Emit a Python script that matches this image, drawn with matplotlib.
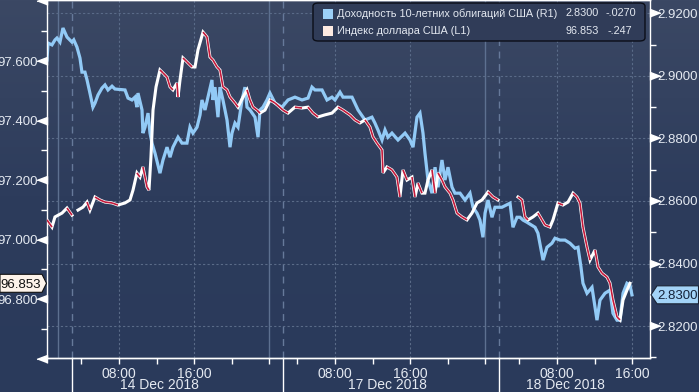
import numpy as np
import matplotlib
matplotlib.use("Agg")
import matplotlib.pyplot as plt
from matplotlib.patches import Polygon, FancyBboxPatch, Rectangle
from matplotlib.collections import LineCollection
from matplotlib.colors import LinearSegmentedColormap

# ---------------- data ----------------
# x positions: hours on the compressed (gap-removed) session axis, 14 Dec 00:00 = 0
yield_t = [0.34, 0.45, 0.87, 1.19, 1.40, 1.72, 2.04, 2.47, 3.00, 3.19, 3.53, 3.85, 4.06, 4.38, 4.60,
           4.91, 5.23, 5.45, 5.77, 6.19, 6.51, 6.83, 7.26, 7.57, 8.64, 8.96, 9.38, 9.70, 9.91, 10.02,
           10.45, 10.55, 10.77, 11.09, 11.30, 11.51, 11.83, 12.36, 12.68, 13.11, 13.43, 13.74, 14.28,
           14.70, 15.23, 15.55, 15.87, 16.30, 16.62, 16.83, 17.15, 17.47, 17.89, 18.00, 18.21, 18.53,
           18.74, 19.06, 19.49, 19.81, 20.02, 20.34, 20.66, 21.09, 21.40, 21.62, 21.94, 22.47, 22.79,
           23.00, 23.32, 23.74, 24.06, 24.60, 25.34, 25.98, 26.72, 27.47, 28.11, 28.53, 28.85, 29.60,
           30.13, 30.66, 30.98, 31.51, 31.83, 32.79, 33.43, 34.17, 34.91, 35.23, 35.55, 35.98, 36.30,
           36.62, 37.04, 37.68, 38.43, 38.96, 39.28, 39.70, 40.02, 40.34, 40.55, 40.87, 41.30, 41.62,
           41.94, 42.36, 42.68, 43.00, 43.43, 43.74, 44.28, 44.81, 45.34, 45.66, 46.09, 46.40, 46.72,
           46.94, 47.26, 47.68, 48.00, 48.74, 49.60, 49.91, 50.34, 50.66, 50.98, 51.40, 52.26, 52.57,
           53.11, 53.53, 54.06, 54.38, 54.91, 55.45, 55.98, 56.51, 56.83, 57.15, 57.36, 57.79, 58.32,
           58.85, 59.17, 59.70, 60.23, 60.55, 60.98, 61.30, 61.62, 62.04, 62.36, 62.57]
yield_v = [2.9051, 2.9105, 2.9099, 2.9115, 2.9121, 2.9108, 2.9153, 2.9124, 2.9108, 2.9115, 2.9092,
           2.9057, 2.9012, 2.9012, 2.8987, 2.8945, 2.8900, 2.8913, 2.8939, 2.8961, 2.8971, 2.8955,
           2.8967, 2.8958, 2.8955, 2.8929, 2.8923, 2.8932, 2.8900, 2.8945, 2.8891, 2.8817, 2.8836,
           2.8881, 2.8817, 2.8785, 2.8753, 2.8689, 2.8731, 2.8772, 2.8740, 2.8772, 2.8804, 2.8785,
           2.8785, 2.8836, 2.8817, 2.8836, 2.8875, 2.8923, 2.8891, 2.8932, 2.8987, 2.8923, 2.8964,
           2.8868, 2.8964, 2.8923, 2.8859, 2.8772, 2.8817, 2.8849, 2.8836, 2.8923, 2.8964, 2.8900,
           2.8891, 2.8868, 2.8804, 2.8891, 2.8900, 2.8923, 2.8945, 2.8913, 2.8900, 2.8923, 2.8932,
           2.8923, 2.8929, 2.8964, 2.8955, 2.8955, 2.8923, 2.8932, 2.8923, 2.8948, 2.8932, 2.8932,
           2.8891, 2.8859, 2.8868, 2.8849, 2.8827, 2.8795, 2.8827, 2.8804, 2.8817, 2.8795, 2.8817,
           2.8795, 2.8772, 2.8868, 2.8881, 2.8817, 2.8753, 2.8667, 2.8625, 2.8708, 2.8644, 2.8731,
           2.8667, 2.8708, 2.8644, 2.8625, 2.8625, 2.8603, 2.8625, 2.8580, 2.8561, 2.8539, 2.8484,
           2.8561, 2.8603, 2.8548, 2.8580, 2.8580, 2.8593, 2.8516, 2.8548, 2.8548, 2.8539, 2.8532,
           2.8516, 2.8497, 2.8411, 2.8452, 2.8465, 2.8481, 2.8475, 2.8475, 2.8465, 2.8449, 2.8452,
           2.8388, 2.8337, 2.8305, 2.8324, 2.8219, 2.8283, 2.8305, 2.8315, 2.8241, 2.8219, 2.8219,
           2.8305, 2.8337, 2.8331, 2.8300]

# NaN marks a gap in the dollar index quotes
dxy_t = [0.34, 0.87, 1.19, 1.94, 2.47, 3.00, 3.30, 3.64, 4.17, 4.60, 4.91, 5.45, 5.98, 6.51, 7.26,
         7.89, 8.64, 9.17, 9.49, 9.91, 10.23, 10.55, 10.98, 11.19, 11.40, 11.62, 11.94, 12.36, 12.68,
         13.11, 13.43, 13.74, 14.17, 14.28, 14.49, 14.81, 15.23, 15.77, 16.09, 16.40, 16.94, 17.36,
         17.68, 18.00, 18.43, 18.74, 19.06, 19.49, 19.81, 20.34, 20.66, 21.19, 21.62, 21.94, 22.26,
         22.68, 23.00, 23.53, 24.06, 24.60, 25.45, 25.98, 26.72, 27.47, 28.11, 28.64, 29.17, 29.91,
         30.66, 31.30, 31.83, 32.57, 33.11, 33.64, 34.17, 34.70, 35.02, 35.45, 35.98, 36.09, 36.51,
         37.04, 37.57, 37.89, 38.21, 38.64, 39.17, 39.49, 39.81, 40.23, 40.55, 40.87, 41.30, 41.62,
         41.94, 42.36, 42.68, 43.21, 43.53, 43.96, 44.49, 45.02, 45.55, 46.09, 46.62, 47.26, 47.79,
         48.32, 49.40, 50.45, 50.87, 51.19, 51.51, 52.04, 52.57, 53.00, 53.32, 53.85, 54.17, 54.70,
         55.23, 55.77, 56.30, 56.72, 57.04, 57.36, 57.79, 58.11, 58.64, 58.96, 59.38, 59.91, 60.23,
         60.55, 60.98, 61.30, 61.62, 62.04, 62.36]
dxy_v = [97.066, 97.042, 97.076, 97.089, 97.106, 97.082, np.nan, 97.099, 97.109, 97.126, 97.099,
         97.143, 97.133, 97.126, 97.123, 97.116, 97.123, 97.133, 97.166, 97.224, 97.210, 97.244,
         97.177, 97.166, 97.277, 97.435, 97.513, 97.570, 97.560, 97.546, 97.513, 97.503, 97.526,
         97.479, 97.536, 97.610, 97.597, 97.580, 97.580, 97.637, 97.697, 97.681, 97.613, 97.603,
         97.580, 97.570, 97.513, 97.503, 97.479, 97.459, 97.445, 97.479, 97.503, 97.469, 97.445,
         97.435, 97.425, 97.435, 97.469, 97.459, 97.435, 97.425, 97.445, 97.442, 97.445, 97.425,
         97.412, 97.419, 97.425, 97.445, 97.435, 97.419, 97.402, 97.392, 97.402, 97.378, 97.345,
         97.324, 97.301, 97.224, 97.244, 97.234, 97.210, 97.143, 97.234, 97.200, 97.210, 97.143,
         97.190, 97.156, 97.156, 97.200, 97.234, 97.156, 97.224, 97.200, 97.177, 97.156, 97.133,
         97.089, 97.076, 97.066, 97.089, 97.123, 97.133, 97.160, 97.143, 97.133, np.nan, 97.143,
         97.133, 97.076, 97.066, 97.076, 97.089, 97.066, 97.049, 97.042, 97.066, 97.123, 97.116,
         97.126, 97.156, 97.143, 97.123, 97.042, 96.975, 96.931, 96.965, 96.908, 96.887, 96.874,
         96.854, 96.797, 96.740, 96.730, 96.797, 96.830, 96.853]

day_starts = [0.0, 22.98, 46.6]                 # compressed-axis hour of each day's 00:00
day_labels = ["14 Dec 2018", "17 Dec 2018", "18 Dec 2018"]
day_label_pos = [12.3, 36.6, 55.5]
major_hours = [8, 16]
minor_hours = [4, 12, 20, 24]
session_lines = [1.51, 23.96, 46.94]
separators = [3.0, 25.45, 48.43]

left_ticks = [97.6, 97.4, 97.2, 97.0, 96.8]
right_ticks = [2.92, 2.90, 2.88, 2.86, 2.84, 2.82]

legend_labels = ["Доходность 10-летних облигаций США (R1)", "Индекс доллара США (L1)"]
legend_last = ["2.8300", "96.853"]
legend_change = ["-.0270", "-.247"]
last_yield = 2.8300
last_dxy = 96.853

# ---------------- style ----------------
W, H = 699, 392
FONT = ["Liberation Sans", "DejaVu Sans"]
plt.rcParams["font.family"] = FONT
TXT = "#e4e9f1"
BLUE = "#92caf6"
RED = "#c41a3b"
GRID = "#5a6b88"

fig = plt.figure(figsize=(W / 100, H / 100), dpi=100)

# background gradient
bg = fig.add_axes([0, 0, 1, 1], zorder=-10)
cmap = LinearSegmentedColormap.from_list("bg", ["#3b4864", "#2d3c5c", "#2a3a5b"])
bg.imshow(np.linspace(0, 1, 256).reshape(-1, 1), aspect="auto", cmap=cmap,
          extent=[0, 1, 0, 1])
bg.set_axis_off()

ax_l, ax_r = 46.7 / W, 650 / W
ax_b, ax_t = (H - 357.7) / H, 1.0
ax2 = fig.add_axes([ax_l, ax_b, ax_r - ax_l, ax_t - ax_b])   # yield (right axis), lower
ax = fig.add_axes([ax_l, ax_b, ax_r - ax_l, ax_t - ax_b], sharex=ax2)  # dollar (left axis), top
for a in (ax, ax2):
    a.patch.set_visible(False)

ax.set_xlim(0.31, 64.49)
ax2.set_ylim(2.8099, 2.92426)
ax.set_ylim(96.603, 97.805)

# yield on right axis
ax2.yaxis.tick_right()
ax2.plot(yield_t, yield_v, color=BLUE, lw=2.3, solid_joinstyle="miter", zorder=3)

# grid (on lower axes)
ax2.set_yticks(right_ticks)
ax2.set_yticks(np.arange(2.81, 2.925, 0.02), minor=True)
ax2.grid(axis="y", which="major", color=GRID, lw=0.8, ls=(0, (2, 2)), zorder=0)
for d in day_starts:
    for h in major_hours:
        ax2.axvline(d + h, color=GRID, lw=0.8, ls=(0, (2, 2)), zorder=0)
for s in session_lines:
    ax2.axvline(s, color="#5d7090", lw=1.0, zorder=0)
for s in separators:
    ax2.axvline(s, color="#66799a", lw=1.0, ls=(0, (5, 4)), zorder=0)

# dollar index: white line with red on declining steps
dt = np.array(dxy_t)
dv = np.array(dxy_v, dtype=float)
ax.plot(dt, dv, color="white", lw=2.2, zorder=3, solid_joinstyle="miter")
segs = []
for i in range(len(dt) - 1):
    if np.isfinite(dv[i]) and np.isfinite(dv[i + 1]) and dv[i + 1] < dv[i]:
        segs.append([(dt[i], dv[i]), (dt[i + 1], dv[i + 1])])
ax.add_collection(LineCollection(segs, colors=RED, linewidths=1.2, zorder=4))

# spines
for a in (ax, ax2):
    for sp in a.spines.values():
        sp.set_color("white")
        sp.set_linewidth(1.0)
ax2.spines["left"].set_visible(False)
ax.spines["right"].set_visible(False)

# left axis ticks
ax.set_yticks(left_ticks)
ax.set_yticklabels([f"{v:.3f}" for v in left_ticks])
ax.set_yticks(np.arange(96.7, 97.8, 0.2), minor=True)
ax.tick_params(axis="y", which="major", length=0, pad=6.0, labelsize=9.5, labelcolor=TXT)
ax.tick_params(axis="y", which="minor", length=4, width=1, color="white", direction="out")
tri_l = [(0, -0.38), (0, 0.38), (-1, 0)]
ax.plot(np.zeros(7), [97.8, 97.6, 97.4, 97.2, 97.0, 96.8, 96.6], ls="none",
        marker=tri_l, ms=15, color="white", transform=ax.get_yaxis_transform(), clip_on=False)

# right axis ticks
ax2.set_yticklabels([f"{v:.4f}" for v in right_ticks])
ax2.tick_params(axis="y", which="major", length=0, pad=5.0, labelsize=9.5, labelcolor=TXT)
ax2.tick_params(axis="y", which="minor", length=4, width=1, color="white", direction="out")
tri_r = [(0, -0.38), (0, 0.38), (1, 0)]
ax2.plot(np.ones(len(right_ticks)), right_ticks, ls="none", marker=tri_r, ms=15,
         color="white", transform=ax2.get_yaxis_transform(), clip_on=False)

# x axis
ax2.tick_params(axis="x", which="both", bottom=False, labelbottom=False)
maj = [d + h for d in day_starts for h in major_hours]
mino = [d + h for d in day_starts for h in minor_hours if d + h < 64.4]
ax.set_xticks(maj)
ax.set_xticklabels([f"{h:02d}:00" for d in day_starts for h in major_hours])
ax.set_xticks(mino, minor=True)
ax.tick_params(axis="x", which="major", length=4, width=1, color="white", pad=3,
               labelsize=10, labelcolor=TXT)
ax.tick_params(axis="x", which="minor", length=4, width=1, color="white")
xt = ax.get_xaxis_transform()
for p, lab in zip(day_label_pos, day_labels):
    ax.text(p, -0.058, lab, transform=xt, ha="center", va="top", fontsize=10, color=TXT)
for s in separators:
    ax.plot([s, s], [0, -0.1], transform=xt, color="white", lw=1.0, clip_on=False)

# legend box
lx0, lx1, ly0, ly1 = 313 / W, 645 / W, 1 - 41 / H, 1 - 3 / H
fig.patches.append(FancyBboxPatch((lx0, ly0), lx1 - lx0, ly1 - ly0,
                                  boxstyle="round,pad=0,rounding_size=0.008",
                                  transform=fig.transFigure, fc="#303c58", ec="#0b0e18",
                                  lw=1.0, zorder=5))
rows_y = [1 - 13.5 / H, 1 - 30.5 / H]
sw_colors = ["#9bcff7", "#fdeae2"]
LFS = 7.8
for i in range(2):
    fig.patches.append(Rectangle((323 / W, rows_y[i] - 5 / H), 10 / W, 10 / H,
                                 transform=fig.transFigure, fc=sw_colors[i], ec="none", zorder=6))
    fig.text(337 / W, rows_y[i], legend_labels[i], fontsize=LFS, color=TXT, va="center",
             ha="left", zorder=7)
    fig.text(565 / W, rows_y[i], legend_last[i], fontsize=LFS, color=TXT, va="center",
             ha="left", zorder=7)
    fig.text((606 + 2 * i) / W, rows_y[i], legend_change[i], fontsize=LFS, color=TXT,
             va="center", ha="left", zorder=7)

# last-value tags
fig.canvas.draw()
yl = ax.transData.transform((0, last_dxy))[1]
yr = ax2.transData.transform((0, last_yield))[1]
hh = 9
poly_l = [(0, yl - hh), (42, yl - hh), (46.5, yl), (42, yl + hh), (0, yl + hh)]
fig.patches.append(Polygon([(x / W, y / H) for x, y in poly_l], closed=True,
                           transform=fig.transFigure, fc="#fdf3ea", ec="#111111", lw=0.8,
                           zorder=8))
fig.text(41 / W, yl / H, f"{last_dxy:.3f}", fontsize=9.5, color="#111111", ha="right",
         va="center_baseline", zorder=9)
poly_r = [(698.5, yr - hh), (657, yr - hh), (651, yr), (657, yr + hh), (698.5, yr + hh)]
fig.patches.append(Polygon([(x / W, y / H) for x, y in poly_r], closed=True,
                           transform=fig.transFigure, fc="#a3d3f7", ec="#1a2233", lw=0.8,
                           zorder=8))
fig.text(657 / W, yr / H, f"{last_yield:.4f}", fontsize=9.5, color="#15233a", ha="left",
         va="center_baseline", zorder=9)

fig.savefig("out.png", dpi=100)
